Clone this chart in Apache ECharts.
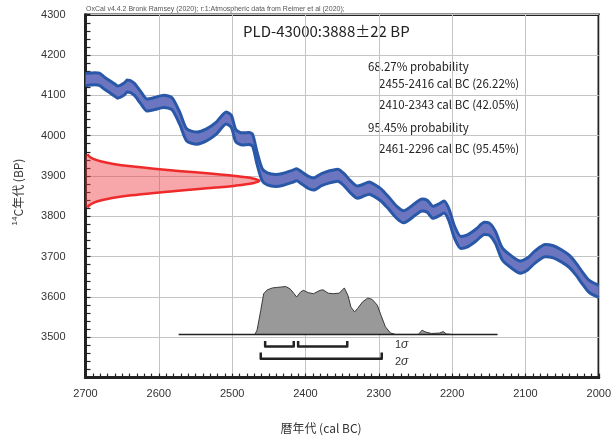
<!DOCTYPE html>
<html>
<head>
<meta charset="utf-8">
<script src="https://cdn.jsdelivr.net/npm/echarts@6/dist/echarts.min.js"></script>
<style>
  html, body { margin: 0; padding: 0; background: #fff; }
  #chart { width: 614px; height: 440px; }
</style>
</head>
<body>
<div id="chart"></div>
<script>
// Calibration curve (cal BC vs 14C age BP)
const calYear = [2700, 2687, 2681, 2674, 2660, 2656, 2647, 2643, 2634, 2625,
  2616, 2607, 2593, 2582, 2571, 2562, 2548, 2535, 2522, 2508,
  2501, 2495, 2486, 2477, 2472, 2466, 2459, 2452, 2441, 2430,
  2418, 2412, 2405, 2396, 2389, 2378, 2367, 2356, 2347, 2338,
  2329, 2322, 2313, 2307, 2297, 2288, 2275, 2266, 2250, 2241,
  2234, 2226, 2218, 2211, 2204, 2197, 2188, 2179, 2167, 2156,
  2150, 2141, 2132, 2120, 2107, 2097, 2087, 2073, 2062, 2051,
  2040, 2031, 2022, 2013, 2000];
const calBP = [4139, 4141, 4140, 4130, 4113, 4108, 4116, 4123, 4116, 4095,
  4076, 4079, 4085, 4079, 4041, 4002, 3994, 4002, 4018, 4044,
  4035, 4000, 3992, 3993, 3988, 3944, 3903, 3893, 3889, 3892,
  3899, 3903, 3895, 3884, 3880, 3891, 3898, 3902, 3890, 3872,
  3860, 3864, 3870, 3865, 3853, 3836, 3809, 3799, 3818, 3828,
  3825, 3810, 3816, 3823, 3802, 3762, 3735, 3739, 3754, 3770,
  3769, 3748, 3708, 3688, 3674, 3682, 3699, 3715, 3712, 3702,
  3688, 3669, 3646, 3626, 3614];
const calSigma = 15;

// Measured radiocarbon age distribution (relative probability)
const measBP = [3954, 3948, 3942, 3936, 3930, 3924, 3918, 3912, 3906, 3900, 3894, 3888,
  3882, 3876, 3870, 3864, 3858, 3852, 3846, 3840, 3834, 3828, 3822];
const measProb = [0.011, 0.024, 0.049, 0.092, 0.161, 0.262, 0.395, 0.551, 0.716, 0.862, 0.963, 1.0,
  0.963, 0.862, 0.716, 0.551, 0.395, 0.262, 0.161, 0.092, 0.049, 0.024, 0.011];

// Calibrated date distribution (relative probability)
const postYear = [2469, 2466, 2461, 2457, 2452, 2445, 2439, 2432, 2427, 2421,
  2416, 2412, 2407, 2403, 2396, 2389, 2380, 2376, 2369, 2362,
  2354, 2347, 2342, 2338, 2333, 2329, 2322, 2315, 2309, 2302,
  2297, 2291, 2284, 2277, 2246, 2241, 2237, 2228, 2217, 2212, 2208, 2201];
const postProb = [0, 0.09, 0.50, 0.85, 0.93, 0.97, 0.98, 0.99, 1.0, 0.95,
  0.86, 0.78, 0.88, 0.92, 0.87, 0.85, 0.92, 0.93, 0.86, 0.85,
  0.86, 0.97, 0.81, 0.57, 0.47, 0.54, 0.68, 0.76, 0.73, 0.61,
  0.40, 0.16, 0.03, 0, 0, 0.09, 0.055, 0.02, 0.03, 0.06, 0.01, 0];
const postSpan = [2573, 2138];

// Highest probability ranges (cal BC)
const range1s = [[2455, 2416], [2410, 2343]];
const range2s = [[2461, 2296]];

// Axis ticks
const xTicks = [2700, 2600, 2500, 2400, 2300, 2200, 2100, 2000];
const yTicks = [3500, 3600, 3700, 3800, 3900, 4000, 4100, 4200, 4300];

const sampleLabel = 'PLD-43000:3888\u00b122 BP';
const probLines = [
  '68.27% probability',
  '2455-2416 cal BC (26.22%)',
  '2410-2343 cal BC (42.05%)',
  '95.45% probability',
  '2461-2296 cal BC (95.45%)'
];

// ---- layout constants ----
const measWidth = 237;      // years spanned by the measured-age peak
const postBase = 3507;      // baseline of the calibrated distribution (BP axis units)
const postHeight = 119;     // peak height of the calibrated distribution (BP axis units)
const br1 = [3477, 3491];   // 1 sigma bracket: line level, tick top
const br2 = [3447, 3462];   // 2 sigma bracket

const ink = '#222';
const CJK = '"Noto Sans CJK JP", "Liberation Sans", sans-serif';
const SANS = '"Liberation Sans", Arial, sans-serif';

function polygonSeries(pts, fill, stroke, lw, z) {
  return {
    type: 'custom',
    coordinateSystem: 'cartesian2d',
    silent: true,
    z: z,
    data: pts,
    renderItem: function (params, api) {
      if (params.dataIndex !== 0) return null;
      return {
        type: 'polygon',
        shape: { points: pts.map(function (p) { return api.coord(p); }) },
        style: { fill: fill, stroke: stroke, lineWidth: lw }
      };
    }
  };
}

function lineSeries(pts, color, width, z, smooth) {
  return {
    type: 'line',
    data: pts,
    showSymbol: false,
    symbol: 'none',
    silent: true,
    smooth: smooth || false,
    z: z,
    lineStyle: { color: color, width: width, cap: 'butt', join: 'round' },
    animation: false
  };
}

// band edges
const upper = calYear.map((y, i) => [y, calBP[i] + calSigma]);
const lower = calYear.map((y, i) => [y, calBP[i] - calSigma]);
const bandPoly = upper.concat(lower.slice().reverse());

// measured age curve on the BP axis
const measCurve = measBP.map((b, i) => [2700 - measWidth * measProb[i], b]);
const measPoly = [[2700, measBP[0]]].concat(measCurve, [[2700, measBP[measBP.length - 1]]]);

// calibrated distribution
const postCurve = postYear.map((y, i) => [y, postBase + postHeight * postProb[i]]);

function bracket(r, lv) {
  return [[r[0], lv[1]], [r[0], lv[0]], [r[1], lv[0]], [r[1], lv[1]]];
}

const series = [
  polygonSeries(measPoly, 'rgba(238,60,70,0.46)', 'none', 0, 2),
  lineSeries(measCurve, '#ee2a2a', 2.5, 3, 0.3),
  polygonSeries(postCurve, '#999999', '#3a3a3a', 1, 2),
  lineSeries([[postSpan[0], postBase], [postSpan[1], postBase]], ink, 1.5, 4),
  polygonSeries(bandPoly, '#6b75c0', 'none', 0, 5),
  lineSeries(upper, '#2a58a8', 3, 6, 0.25),
  lineSeries(lower, '#2a58a8', 3, 6, 0.25)
];
range1s.forEach(r => series.push(lineSeries(bracket(r, br1), ink, 2.5, 4)));
range2s.forEach(r => series.push(lineSeries(bracket(r, br2), ink, 2.5, 4)));

const probFont = '11.5px ' + CJK;
const graphics = [
  { type: 'text', left: 86, top: 6, style: { text: 'OxCal v4.4.2 Bronk Ramsey (2020); r:1:Atmospheric data from Reimer et al (2020);', fill: '#555', font: '7px ' + SANS } },
  { type: 'text', x: 243, y: 31, style: { text: sampleLabel, fill: '#222', font: '15px ' + CJK, textVerticalAlign: 'middle' } },
  { type: 'text', x: 368, y: 67, style: { text: probLines[0], fill: '#222', font: probFont, textVerticalAlign: 'middle' } },
  { type: 'text', x: 379, y: 84, style: { text: probLines[1], fill: '#222', font: probFont, textVerticalAlign: 'middle' } },
  { type: 'text', x: 379, y: 105, style: { text: probLines[2], fill: '#222', font: probFont, textVerticalAlign: 'middle' } },
  { type: 'text', x: 368, y: 128, style: { text: probLines[3], fill: '#222', font: probFont, textVerticalAlign: 'middle' } },
  { type: 'text', x: 379, y: 149, style: { text: probLines[4], fill: '#222', font: probFont, textVerticalAlign: 'middle' } },
  { type: 'text', x: 395, y: 344.5, style: { text: '1{s|\u03c3}', rich: { s: { font: 'italic 12px ' + SANS, fill: '#333' } }, fill: '#333', font: '11px ' + SANS, textVerticalAlign: 'middle' } },
  { type: 'text', x: 395, y: 362, style: { text: '2{s|\u03c3}', rich: { s: { font: 'italic 12px ' + SANS, fill: '#333' } }, fill: '#333', font: '11px ' + SANS, textVerticalAlign: 'middle' } },
  { type: 'text', x: 321, y: 428, style: { text: '暦年代 (cal BC)', fill: '#333', font: '12px ' + CJK, textAlign: 'center', textVerticalAlign: 'middle' } },
  { type: 'text', x: 18, y: 192, rotation: Math.PI / 2,
    style: { text: '{sup|14}C年代 (BP)', fill: '#333', font: '12px ' + CJK, textAlign: 'center', textVerticalAlign: 'middle',
      rich: { sup: { font: '8px ' + SANS, fill: '#333', verticalAlign: 'top', padding: [0, 0, 6, 0] } } } }
];

const chart = echarts.init(document.getElementById('chart'), null, { renderer: 'canvas' });
chart.setOption({
  animation: false,
  backgroundColor: '#fff',
  grid: { left: 85.5, right: 8, top: 14.7, bottom: 62.4, show: true, borderColor: ink, borderWidth: 2.5, backgroundColor: 'transparent' },
  xAxis: {
    type: 'value', min: 2000, max: 2700, interval: 100, inverse: true,
    axisLine: { show: true, lineStyle: { color: ink, width: 3 } },
    axisTick: { show: true, inside: true, length: 4, lineStyle: { color: ink, width: 1.2 } },
    minorTick: { show: true, splitNumber: 10, length: 4, lineStyle: { color: ink, width: 1.2 } },
    splitLine: { show: true, lineStyle: { color: '#c4c4c4', width: 1 } },
    axisLabel: { color: '#333', fontSize: 11, fontFamily: SANS, margin: 11,
      formatter: v => xTicks.indexOf(v) >= 0 ? String(v) : '' }
  },
  yAxis: {
    type: 'value', min: 3400, max: 4300, interval: 100,
    axisLine: { show: true, lineStyle: { color: ink, width: 3 } },
    axisTick: { show: true, inside: true, length: 5, lineStyle: { color: ink, width: 1.2 } },
    minorTick: { show: true, splitNumber: 5, length: 5, lineStyle: { color: ink, width: 1.2 } },
    splitLine: { show: true, lineStyle: { color: '#c4c4c4', width: 1 } },
    axisLabel: { color: '#333', fontSize: 11, fontFamily: SANS, margin: 20,
      formatter: v => yTicks.indexOf(v) >= 0 ? String(v) : '' }
  },
  graphic: graphics,
  series: series
});
</script>
</body>
</html>
